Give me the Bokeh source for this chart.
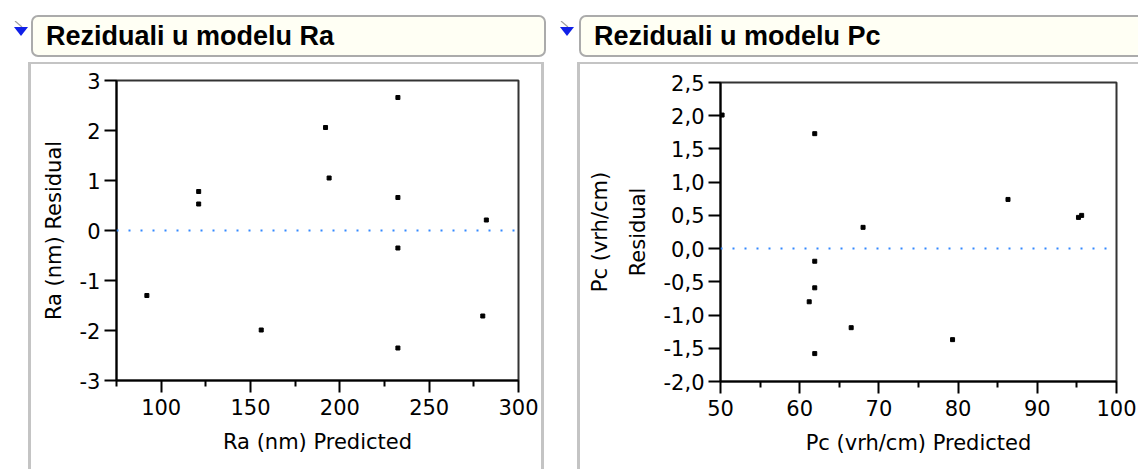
from bokeh.plotting import figure
from bokeh.models import Span, FixedTicker, CustomJSTickFormatter, Div, Spacer
from bokeh.layouts import row, column
from bokeh.embed import file_html
from bokeh.resources import INLINE

# ---------------- data ----------------
ra_title = "Reziduali u modelu Ra"
ra_xlabel = "Ra (nm) Predicted"
ra_ylabel = "Ra (nm) Residual"
ra_pred = [92, 121, 121, 156, 192, 194, 232.5, 232.5, 232.5, 232.5, 280, 282]
ra_resid = [-1.30, 0.78, 0.53, -1.99, 2.06, 1.05, 2.66, 0.66, -0.35, -2.35, -1.71, 0.21]
ra_xticks = [100, 150, 200, 250, 300]
ra_xminor = [75, 125, 175, 225, 275]
ra_yticks = [-3, -2, -1, 0, 1, 2, 3]

pc_title = "Reziduali u modelu Pc"
pc_xlabel = "Pc (vrh/cm) Predicted"
pc_ylabel = "Pc (vrh/cm)\nResidual"
pc_pred = [50.2, 61.9, 68.0, 86.3, 95.2, 95.6, 61.9, 61.9, 61.2, 66.5, 61.9, 79.3]
pc_resid = [2.01, 1.73, 0.32, 0.74, 0.47, 0.50, -0.19, -0.59, -0.80, -1.19, -1.58, -1.37]
pc_xticks = [50, 60, 70, 80, 90, 100]
pc_xminor = [55, 65, 75, 85, 95]
pc_yticks = [-2.0, -1.5, -1.0, -0.5, 0.0, 0.5, 1.0, 1.5, 2.0, 2.5]

FONT = "DejaVu Sans"
GREY = "#c4c4c4"


def style_axis(ax):
    ax.axis_line_color = "black"
    ax.axis_line_width = 2
    ax.major_tick_line_color = "black"
    ax.major_tick_line_width = 2
    ax.minor_tick_line_color = "black"
    ax.minor_tick_line_width = 2
    ax.major_tick_in = 0
    ax.major_tick_out = 12
    ax.minor_tick_in = 0
    ax.minor_tick_out = 6
    ax.major_label_text_font = FONT
    ax.major_label_text_font_size = "21px"
    ax.major_label_text_color = "black"
    ax.axis_label_text_font = FONT
    ax.axis_label_text_font_size = "21px"
    ax.axis_label_text_font_style = "normal"
    ax.axis_label_text_color = "black"


def make_plot(xs, ys, xr, yr, xticks, xminor, yticks, xlabel, ylabel,
              width, height, mb_l, mb_r, mb_t, mb_b, decimals):
    p = figure(width=width, height=height, x_range=xr, y_range=yr,
               output_backend="svg", toolbar_location=None,
               min_border_left=mb_l, min_border_right=mb_r,
               min_border_top=mb_t, min_border_bottom=mb_b, margin=0)
    p.grid.visible = False
    p.outline_line_color = "#333333"
    p.outline_line_width = 2
    p.background_fill_color = "white"
    p.border_fill_color = "white"
    xa = p.xaxis[0]
    ya = p.yaxis[0]
    style_axis(xa)
    style_axis(ya)
    xa.ticker = FixedTicker(ticks=xticks, minor_ticks=xminor)
    ya.ticker = FixedTicker(ticks=yticks)
    ya.minor_tick_out = 0
    xa.axis_label = xlabel
    ya.axis_label = ylabel
    xa.major_label_standoff = 6
    xa.axis_label_standoff = 12
    ya.major_label_standoff = 4
    ya.axis_label_standoff = 11
    ya.axis_label_text_line_height = 1.55
    xa.formatter = CustomJSTickFormatter(code="return tick.toFixed(0);")
    ya.formatter = CustomJSTickFormatter(
        code=f"return tick.toFixed({decimals}).replace('.', ',');")
    p.add_layout(Span(location=0, dimension="width", line_color="#3388ff",
                      line_width=2, line_dash="2 10"))
    p.scatter(xs, ys, marker="square", size=4, color="black")
    return p


def header(width, title, tri_left, box_left, box_width):
    html = f"""<div style="position:relative;width:{width}px;height:62px;overflow:hidden;">
<svg style="position:absolute;left:{tri_left}px;top:21px" width="18" height="18" viewBox="0 0 18 18">
<line x1="2" y1="0" x2="9" y2="6" stroke="#a0a0a0" stroke-width="1.2"/>
<polygon points="1,6 15,6 8,15" fill="#1020e8"/>
</svg>
<div style="position:absolute;left:{box_left}px;top:15px;width:{box_width}px;height:42px;box-sizing:border-box;border:2px solid #ababab;border-radius:7px;background:#fffff4;font-family:'Liberation Sans',Arial,sans-serif;font-weight:bold;font-size:27px;line-height:38px;padding-left:13px;color:#000;white-space:nowrap;">{title}</div>
</div>"""
    return Div(text=html, width=width, height=62, margin=0)


def bar(w, h):
    return Div(text="", width=w, height=h, margin=0,
               styles={"background-color": GREY})


def gap(w, h):
    return Spacer(width=w, height=h, margin=0)


# left panel (x 0..556)
p1 = make_plot(ra_pred, ra_resid, (75, 300), (-3, 3), ra_xticks, ra_xminor, ra_yticks,
               ra_xlabel, ra_ylabel, 510, 405, 85, 23, 16, 89, 0)
left = column(
    header(556, ra_title, 13, 31, 515),
    row(gap(28, 407),
        column(bar(516, 2), row(bar(3, 405), p1, bar(3, 405), spacing=0), spacing=0),
        gap(12, 407), spacing=0),
    spacing=0, margin=0,
)

# right panel (x 556..1138); frame a bit narrower so the "100" label stays visible
p2 = make_plot(pc_pred, pc_resid, (50, 100), (-2, 2.5), pc_xticks, pc_xminor, pc_yticks,
               pc_xlabel, pc_ylabel, 558, 405, 140, 22, 18, 88, 1)
right = column(
    header(582, pc_title, 3, 23, 590),
    row(gap(21, 407),
        column(bar(561, 2), row(bar(3, 405), p2, spacing=0), spacing=0),
        spacing=0),
    spacing=0, margin=0,
)

layout = row(left, right, spacing=0, margin=0)
open("out.html", "w").write(file_html(layout, INLINE))
